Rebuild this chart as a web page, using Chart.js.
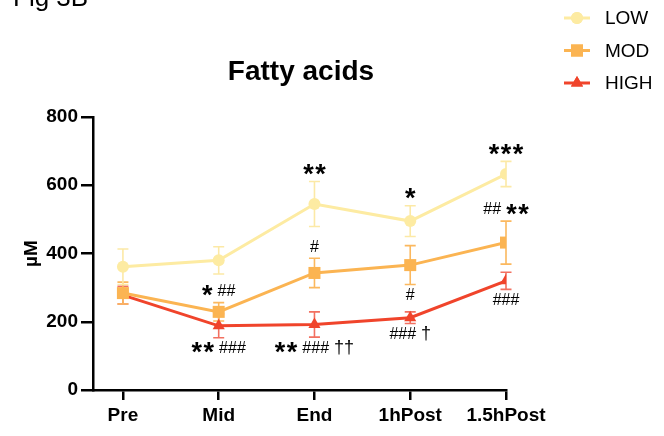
<!DOCTYPE html>
<html>
<head>
<meta charset="utf-8">
<script src="https://cdn.jsdelivr.net/npm/chart.js@4/dist/chart.umd.min.js"></script>
<style>
  html, body { margin: 0; padding: 0; background: #fff; }
  #wrap { width: 664px; height: 436px; position: relative; }
</style>
</head>
<body>
<div id="wrap"><canvas id="c" width="664" height="436"></canvas></div>
<script>
// Time points and group means (µM) with SEM
const categories = ['Pre', 'Mid', 'End', '1hPost', '1.5hPost'];
const seriesNames = ['LOW', 'MOD', 'HIGH'];
const lowMean  = [361, 380, 545, 495, 633];
const lowSem   = [ 52,  40,  66,  45,  37];
const modMean  = [284, 229, 343, 366, 432];
const modSem   = [ 32,  27,  43,  57,  63];
const highMean = [278, 188, 192, 212, 320];
const highSem  = [ 26,  35,  37,  17,  25];
const yTicks   = [0, 200, 400, 600, 800];

// Significance marks: [series, time point, text, side]
const marks = [
  [0, 2, '**', 'above'],
  [0, 3, '*', 'above'],
  [0, 4, '***', 'above'],
  [1, 1, '* ##', 'above'],
  [1, 2, '#', 'above'],
  [1, 3, '#', 'below'],
  [1, 4, '## **', 'above'],
  [2, 1, '** ###', 'below'],
  [2, 2, '** ### ††', 'below'],
  [2, 3, '### †', 'below'],
  [2, 4, '###', 'below']
];

const colors = ['#FDEBA2', '#FBB452', '#F0442B'];
const errColors = ['#FCE9A6', '#FBB85E', '#F27060'];
const styles = ['circle', 'rect', 'triangle'];
const radii = [6, 8.5, 7];
const means = [lowMean, modMean, highMean];
const sems = [lowSem, modSem, highSem];

const FONT = "'Liberation Sans', Arial, sans-serif";

function toPoints(arr) { return arr.map((v, i) => ({ x: i, y: v })); }

// Error bars drawn under the markers
const errorBars = {
  id: 'errorBars',
  beforeDatasetsDraw(chart) {
    const { ctx, scales: { x, y } } = chart;
    ctx.save();
    for (let s = means.length - 1; s >= 0; s--) {
      ctx.strokeStyle = errColors[s];
      ctx.lineWidth = 1.6;
      means[s].forEach((m, i) => {
        const px = x.getPixelForValue(i);
        const top = y.getPixelForValue(m + sems[s][i]);
        const bot = y.getPixelForValue(m - sems[s][i]);
        ctx.beginPath();
        ctx.moveTo(px, top); ctx.lineTo(px, bot);
        ctx.moveTo(px - 5.5, top); ctx.lineTo(px + 5.5, top);
        ctx.moveTo(px - 5.5, bot); ctx.lineTo(px + 5.5, bot);
        ctx.stroke();
      });
    }
    ctx.restore();
  }
};

// Draw a mark string token by token: stars bold and large, hashes/daggers regular
function drawMark(ctx, text, cx, cy) {
  const tokens = text.split(' ');
  const fontFor = t => t[0] === '*' ? `bold 27px ${FONT}` : (t[0] === '#' ? `16px ${FONT}` : `18px ${FONT}`);
  const shiftFor = t => t[0] === '*' ? 5 : 0;
  const spacingFor = t => t[0] === '*' ? 1.5 : 0;
  const gap = 5;
  const widths = tokens.map(t => {
    ctx.font = fontFor(t);
    let w = 0;
    for (const ch of t) w += ctx.measureText(ch).width;
    return w + spacingFor(t) * (t.length - 1);
  });
  const total = widths.reduce((a, b) => a + b, 0) + gap * (tokens.length - 1);
  let xx = cx - total / 2;
  tokens.forEach((t, k) => {
    ctx.font = fontFor(t);
    ctx.textAlign = 'left';
    ctx.textBaseline = 'middle';
    let cxp = xx;
    for (const ch of t) {
      ctx.fillText(ch, cxp, cy + shiftFor(t));
      cxp += ctx.measureText(ch).width + spacingFor(t);
    }
    xx += widths[k] + gap;
  });
}

const overlay = {
  id: 'overlay',
  afterDraw(chart) {
    const { ctx, scales: { x, y }, chartArea } = chart;
    ctx.save();
    ctx.fillStyle = '#000';

    // figure label, title, axis title
    ctx.font = `26px ${FONT}`;
    ctx.textAlign = 'left';
    ctx.textBaseline = 'alphabetic';
    ctx.fillText('Fig 3B', 13, 6);

    ctx.font = `bold 28px ${FONT}`;
    ctx.textAlign = 'center';
    ctx.textBaseline = 'middle';
    ctx.fillText('Fatty acids', 301, 72);

    ctx.save();
    ctx.translate(32, (chartArea.top + chartArea.bottom) / 2);
    ctx.rotate(-Math.PI / 2);
    ctx.font = `bold 19px ${FONT}`;
    ctx.fillText('µM', 0, 0);
    ctx.restore();

    // significance marks placed from the error bar ends
    marks.forEach(([s, i, text, side]) => {
      const px = x.getPixelForValue(i);
      const m = means[s][i], e = sems[s][i];
      const py = side === 'above' ? y.getPixelForValue(m + e) - 11 : y.getPixelForValue(m - e) + 11;
      drawMark(ctx, text, px, py);
    });

    // legend
    const lx = 564, lw = 26, ly0 = 18, lstep = 32.5;
    seriesNames.forEach((name, s) => {
      const ly = ly0 + s * lstep;
      ctx.strokeStyle = colors[s];
      ctx.lineWidth = 3;
      ctx.beginPath(); ctx.moveTo(lx, ly); ctx.lineTo(lx + lw, ly); ctx.stroke();
      ctx.fillStyle = colors[s];
      Chart.helpers.drawPoint(ctx, { pointStyle: styles[s], radius: radii[s], borderWidth: 0 }, lx + lw / 2, ly);
      ctx.fill();
      ctx.fillStyle = '#000';
      ctx.font = `19px ${FONT}`;
      ctx.textAlign = 'left';
      ctx.textBaseline = 'middle';
      ctx.fillText(name, 605, ly + 1);
    });
    ctx.restore();
  }
};

const datasets = seriesNames.map((name, s) => ({
  label: name,
  data: toPoints(means[s]),
  borderColor: colors[s],
  backgroundColor: colors[s],
  borderWidth: 3,
  pointStyle: styles[s],
  pointRadius: radii[s],
  pointBorderWidth: 0,
  pointBackgroundColor: colors[s],
  tension: 0
}));

new Chart(document.getElementById('c'), {
  type: 'line',
  data: { datasets },
  options: {
    responsive: false,
    animation: false,
    layout: { padding: { top: 117, right: 158, left: 0, bottom: 0 } },
    plugins: { legend: { display: false }, title: { display: false }, tooltip: { enabled: false } },
    scales: {
      x: {
        type: 'linear',
        min: -0.3125,
        max: 4,
        afterBuildTicks(scale) { scale.ticks = categories.map((c, i) => ({ value: i })); },
        afterFit(scale) { scale.height = 46; },
        ticks: {
          callback: v => categories[v],
          color: '#000',
          font: { family: FONT, size: 19, weight: 'bold' },
          padding: 4,
          maxRotation: 0,
          autoSkip: false
        },
        grid: { drawOnChartArea: false, drawTicks: true, tickLength: 10, color: '#000', lineWidth: 2.5 },
        border: { color: '#000', width: 2.5 }
      },
      y: {
        min: 0,
        max: 800,
        afterBuildTicks(scale) { scale.ticks = yTicks.map(v => ({ value: v })); },
        afterFit(scale) { scale.width = 93; },
        ticks: {
          color: '#000',
          font: { family: FONT, size: 19, weight: 'bold' },
          padding: 3
        },
        grid: { drawOnChartArea: false, drawTicks: true, tickLength: 12, color: '#000', lineWidth: 2.5 },
        border: { color: '#000', width: 2.5 }
      }
    }
  },
  plugins: [errorBars, overlay]
});
</script>
</body>
</html>
